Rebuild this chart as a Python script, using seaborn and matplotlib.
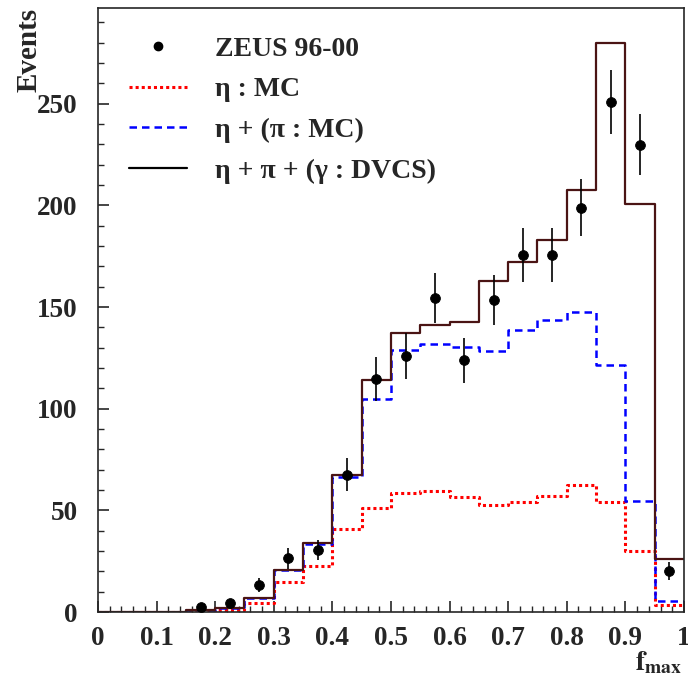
import numpy as np
import pandas as pd
import matplotlib
matplotlib.use("Agg")
import matplotlib.pyplot as plt
from matplotlib.lines import Line2D
from matplotlib.ticker import MultipleLocator
import seaborn as sns

# bin centers in f_max (20 bins of 0.05)
centers = [0.025, 0.075, 0.125, 0.175, 0.225, 0.275, 0.325, 0.375, 0.425, 0.475,
           0.525, 0.575, 0.625, 0.675, 0.725, 0.775, 0.825, 0.875, 0.925, 0.975]

# eta : MC
eta_mc = [0, 0, 0, 0.5, 1, 4.3, 15, 22.6, 40.6, 51, 58.6, 59.4, 56.6, 52.6, 54.2, 57.1, 62.4, 53.9, 30, 3.4]
# eta + (pi : MC)
eta_pi = [0, 0, 0, 1, 2, 6.7, 20.6, 33.7, 66.2, 104.6, 129, 131.6, 130.3, 128.4, 138.5, 143.4, 147.8, 121.3, 54.5, 5.6]
# eta + pi + (gamma : DVCS)
total = [0, 0, 0, 1, 2.2, 6.9, 20.6, 34, 67.3, 114, 137.2, 141, 142.8, 162.7, 172, 183.2, 207.8, 280, 200.9, 26]

# ZEUS 96-00 data
data_x = [0.175, 0.225, 0.275, 0.325, 0.375, 0.425, 0.475, 0.525, 0.575, 0.625, 0.675, 0.725, 0.775, 0.825, 0.875, 0.925, 0.975]
data_y = [2.3, 4.3, 13.3, 26.4, 30.5, 67.6, 114.6, 125.7, 154.4, 123.8, 153.6, 175.7, 175.7, 198.8, 250.8, 229.7, 20.3]
data_err = [0, 0, 3.6, 5.1, 5, 8.2, 10.6, 11.3, 12.4, 11, 12.4, 13.3, 13.3, 14, 15.7, 15, 4.5]

sns.set_style("ticks")
plt.rcParams["font.family"] = ["Liberation Serif", "DejaVu Serif"]
plt.rcParams["font.weight"] = "bold"
plt.rcParams["mathtext.fontset"] = "stix"

fig = plt.figure(figsize=(6.88, 6.78), dpi=100)
ax = fig.add_axes([0.1424, 0.0973, 0.8517, 0.8907])

hist = pd.DataFrame({"x": centers, "eta": eta_mc, "eta_pi": eta_pi, "total": total})

sns.histplot(data=hist, x="x", weights="eta", bins=20, binrange=(0, 1), element="step", fill=False,
             color="red", linewidth=2.2, linestyle=(0, (1, 1)), ax=ax)
sns.histplot(data=hist, x="x", weights="eta_pi", bins=20, binrange=(0, 1), element="step", fill=False,
             color="blue", linewidth=1.8, linestyle=(0, (3, 2)), ax=ax)
sns.histplot(data=hist, x="x", weights="total", bins=20, binrange=(0, 1), element="step", fill=False,
             color="#4a1414", linewidth=1.6, ax=ax)

ax.errorbar(data_x, data_y, yerr=data_err, fmt="none", ecolor="black", elinewidth=1.2, capsize=0)
sns.scatterplot(x=data_x, y=data_y, color="black", s=50, edgecolor="black", ax=ax, zorder=5)

ax.set_xlim(0, 1)
ax.set_ylim(0, 297)
ax.xaxis.set_minor_locator(MultipleLocator(0.02))
ax.yaxis.set_major_locator(MultipleLocator(50))
ax.yaxis.set_minor_locator(MultipleLocator(10))
ax.tick_params(axis="both", which="both", direction="in", top=False, right=False)
ax.tick_params(axis="both", which="major", length=8, width=1.2, labelsize=19.5)
ax.tick_params(axis="both", which="minor", length=4, width=1)
ax.tick_params(axis="x", which="major", pad=10)
ax.tick_params(axis="y", which="major", pad=14.5)
ax.set_xticks(np.round(np.arange(0, 1.01, 0.1), 1))
ax.set_xticklabels(["0", "0.1", "0.2", "0.3", "0.4", "0.5", "0.6", "0.7", "0.8", "0.9", "1"])
for lab in ax.get_xticklabels() + ax.get_yticklabels():
    lab.set_fontweight("bold")
for sp in ax.spines.values():
    sp.set_linewidth(1.2)

ax.set_xlabel(r"$\mathbf{f_{max}}$", fontsize=20, loc="right")
ax.xaxis.set_label_coords(0.996, -0.061)
ax.set_ylabel("Events", fontsize=21, fontweight="bold", loc="top")
ax.yaxis.set_label_coords(-0.095, 1.0)

handles = [
    Line2D([], [], marker="o", color="black", linestyle="none", markersize=6),
    Line2D([], [], color="red", linewidth=2.2, linestyle=(0, (1, 1))),
    Line2D([], [], color="blue", linewidth=1.8, linestyle=(0, (3, 2))),
    Line2D([], [], color="black", linewidth=1.6),
]
labels = ["ZEUS 96-00", "η : MC", "η + (π : MC)", "η + π + (γ : DVCS)"]
ax.legend(handles, labels, loc="upper left", bbox_to_anchor=(0.01, 0.995), frameon=False,
          prop={"size": 20, "weight": "bold"}, handlelength=2.1, handletextpad=1.0,
          labelspacing=0.55)

fig.savefig("out.png", dpi=100)
